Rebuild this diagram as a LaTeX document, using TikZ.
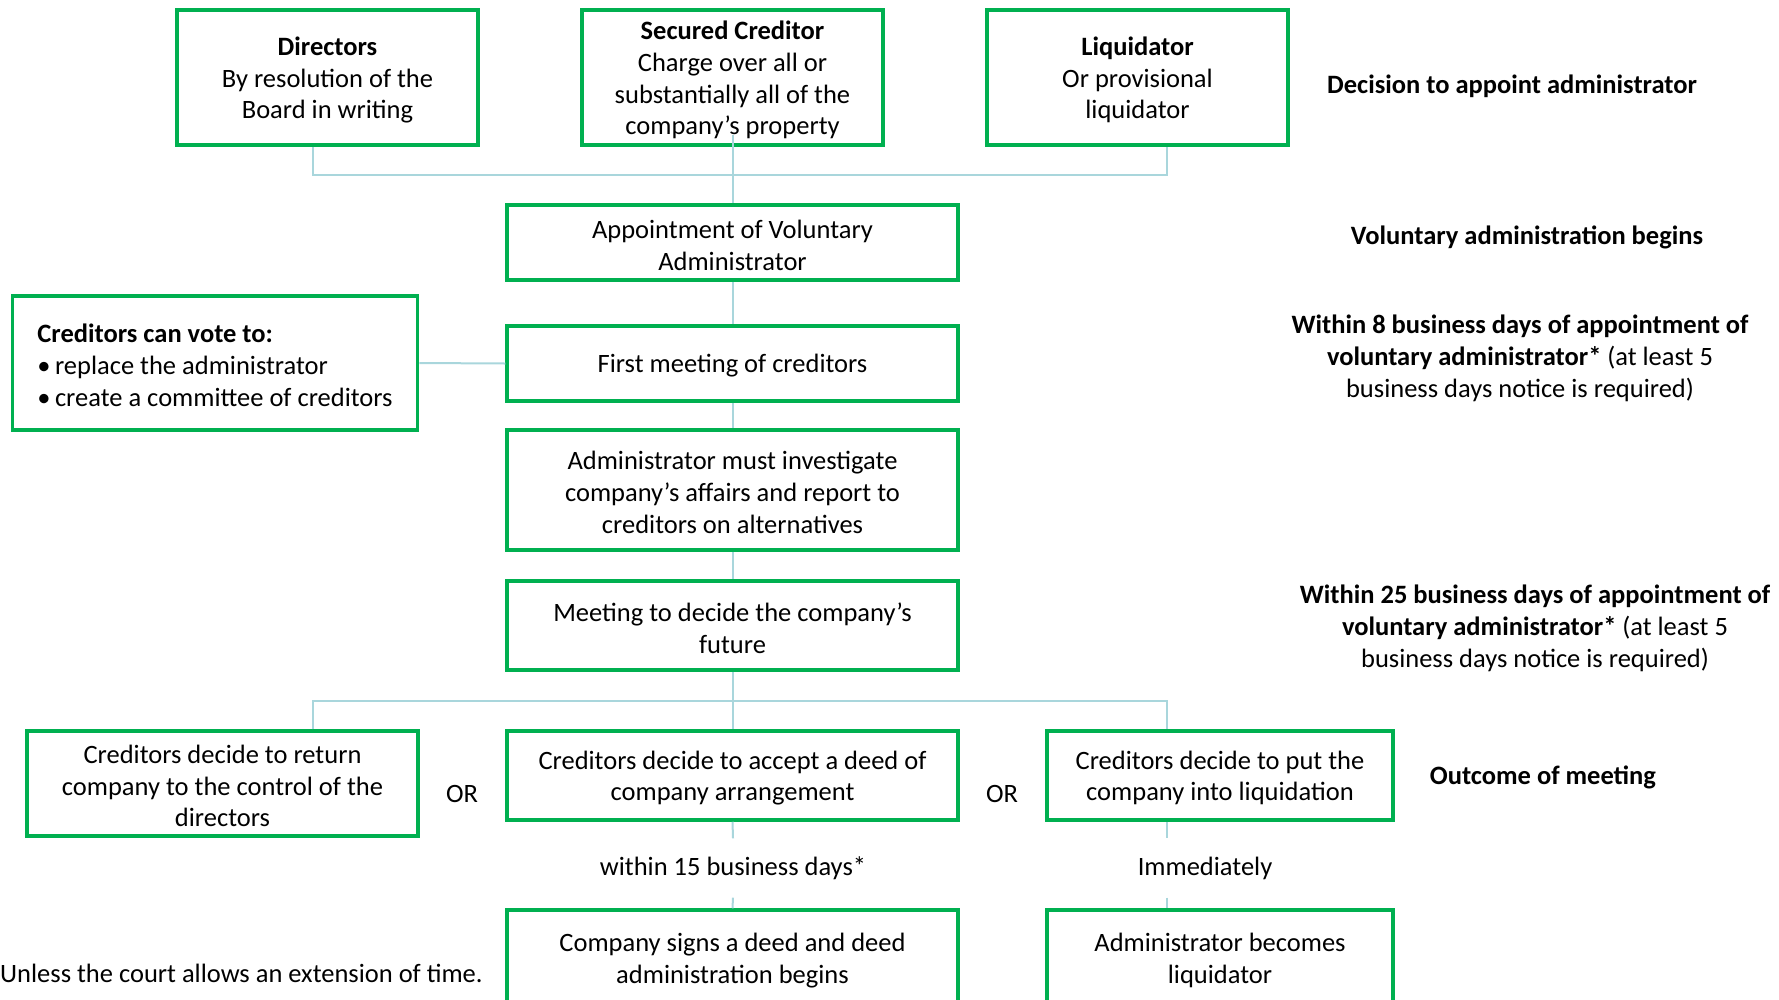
\documentclass[tikz,border=0pt]{standalone}
\usepackage{fontspec}
\setmainfont{Carlito}
\definecolor{boxgreen}{HTML}{00B050}
\definecolor{connblue}{HTML}{A9D6DC}
\newcommand\dfont{\fontsize{26.5}{31.8}\selectfont}
\begin{document}
\begin{tikzpicture}[x=1pt,y=-1pt,
  box/.style={draw=boxgreen, line width=3.5pt, fill=white, rectangle, inner sep=0pt},
  conn/.style={draw=connblue, line width=2pt},
  lbl/.style={inner sep=0pt, align=center, font=\dfont},
  txt/.style={label={[lbl, yshift=-2.5pt]center:{#1}}},
  ltxt/.style={label={[lbl, align=left, yshift=-2.5pt]center:{#1}}}]
\useasboundingbox (0,0) rectangle (1779,999);
% top row
\node[box, minimum width=301pt, minimum height=135pt, txt={\textbf{Directors}\\By resolution of the\\Board in writing}] (dir) at (327.5,77.5) {};
\node[box, minimum width=301pt, minimum height=135pt, txt={\textbf{Secured Creditor}\\Charge over all or\\substantially all of the\\company’s property}] (sec) at (732.5,77.5) {};
\node[box, minimum width=301pt, minimum height=135pt, txt={\textbf{Liquidator}\\Or provisional\\liquidator}] (liq) at (1137.5,77.5) {};
% middle column
\node[box, minimum width=451pt, minimum height=75pt, txt={Appointment of Voluntary\\Administrator}] (app) at (732.5,242.5) {};
\node[box, minimum width=451pt, minimum height=75pt, txt={First meeting of creditors}] (first) at (732.5,363.5) {};
\node[box, minimum width=405pt, minimum height=134pt, ltxt={\textbf{Creditors can vote to:}\\\textbullet\,replace the administrator\\\textbullet\,create a committee of creditors}] (vote) at (215,363) {};
\node[box, minimum width=451pt, minimum height=120pt, txt={Administrator must investigate\\company’s affairs and report to\\creditors on alternatives}] (inv) at (732.5,490) {};
\node[box, minimum width=451pt, minimum height=89pt, txt={Meeting to decide the company’s\\future}] (mtg) at (732.5,625.5) {};
% outcomes
\node[box, minimum width=391pt, minimum height=105pt, txt={Creditors decide to return\\company to the control of the\\directors}] (ret) at (222.5,783.5) {};
\node[box, minimum width=451pt, minimum height=89pt, txt={Creditors decide to accept a deed of\\company arrangement}] (deed) at (732.5,775.5) {};
\node[box, minimum width=346pt, minimum height=89pt, txt={Creditors decide to put the\\company into liquidation}] (liqb) at (1220,775.5) {};
\node[lbl] (or1) at (462,793.5) {OR};
\node[lbl] (or2) at (1002,793.5) {OR};
% timing labels
\node[lbl, minimum height=59pt] (w15) at (733,868) {within 15 business days*};
\node[lbl, minimum height=59pt] (imm) at (1205,868) {Immediately};
% final boxes
\node[box, minimum width=451pt, minimum height=96pt, txt={Company signs a deed and deed\\administration begins}] (csd) at (732.5,958) {};
\node[box, minimum width=346pt, minimum height=96pt, txt={Administrator becomes\\liquidator}] (adm) at (1220,958) {};
\node[lbl, anchor=west] (unless) at (0,973.5) {Unless the court allows an extension of time.};
% right-hand labels
\node[lbl] (r1) at (1512,86.5) {\textbf{Decision to appoint administrator}};
\node[lbl] (r2) at (1527,237.5) {\textbf{Voluntary administration begins}};
\node[lbl] (r3) at (1520,358.5) {\textbf{Within 8 business days of appointment of}\\\textbf{voluntary administrator*} (at least 5\\business days notice is required)};
\node[lbl] (r4) at (1535,628.5) {\textbf{Within 25 business days of appointment of}\\\textbf{voluntary administrator*} (at least 5\\business days notice is required)};
\node[lbl] (r5) at (1543,777.5) {\textbf{Outcome of meeting}};
% connectors
\coordinate (tl) at (313,175);
\coordinate (tr) at (1167,175);
\coordinate (bl) at (313,701);
\coordinate (br) at (1167,701);
\draw[conn] (dir.south -| tl) -- (tl) -- (tr) -- (liq.south -| tr);
\draw[conn] ([yshift=12pt]sec.south) -- (app.north);
\draw[conn] (app.south) -- (first.north);
\draw[conn] (vote.east) -- (first.west);
\draw[conn] (first.south) -- (inv.north);
\draw[conn] (inv.south) -- (mtg.north);
\draw[conn] (mtg.south) -- (deed.north);
\draw[conn] (ret.north -| bl) -- (bl) -- (br) -- (liqb.north -| br);
\draw[conn] (deed.south) -- (w15.north);
\draw[conn] (w15.south) -- (csd.north);
\draw[conn] (liqb.south -| br) -- (imm.north -| br);
\draw[conn] (imm.south -| br) -- (adm.north -| br);
\end{tikzpicture}
\end{document}
